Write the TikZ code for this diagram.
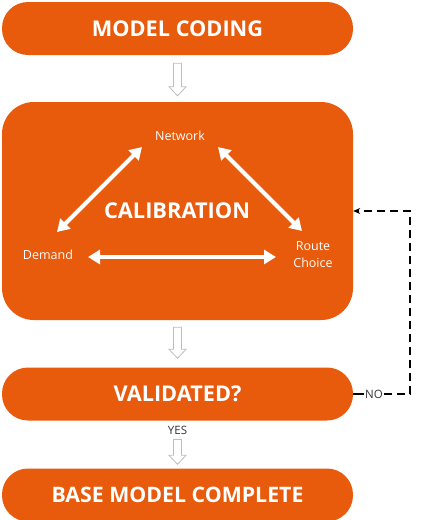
\documentclass[tikz,border=0pt]{standalone}
\usepackage{fontspec}
\setmainfont{Open Sans}
\usetikzlibrary{arrows.meta,calc}
\definecolor{orng}{HTML}{E85A0C}
\definecolor{hollowgray}{HTML}{BDBDBD}
\definecolor{dark}{HTML}{333333}
\tikzset{
  pill/.style={fill=orng, draw=none, rounded corners=26pt, minimum width=351pt, minimum height=53pt, inner sep=0pt, text=white, font=\bfseries\fontsize{21.7}{24}\selectfont},
  bigbox/.style={fill=orng, draw=none, rounded corners=32pt, minimum width=351pt, minimum height=218pt, inner sep=0pt},
  lbl/.style={text=white, font=\fontsize{12.5}{17}\selectfont, align=center, inner sep=0pt},
  smalllbl/.style={text=dark, font=\fontsize{11.5}{13}\selectfont, inner sep=1pt},
  wharrow/.style={white, line width=4pt, {Triangle[length=12pt,width=14pt]}-{Triangle[length=12pt,width=14pt]}},
  hollow/.style={draw=hollowgray, fill=white, line width=0.8pt, line join=miter},
  feedback/.style={black, line width=1.1pt, dash pattern=on 8pt off 5pt},
}
\newcommand\hollowarrow[2]{%
  \draw[hollow] ($(#1)+(-4,0)$) -- ($(#1)+(4,0)$) -- ($(#2)+(4,-9)$) -- ($(#2)+(8.5,-9)$) -- (#2) -- ($(#2)+(-8.5,-9)$) -- ($(#2)+(-4,-9)$) -- cycle;}
\begin{document}
\begin{tikzpicture}[x=1pt,y=-1pt]
\useasboundingbox (0,0) rectangle (426,520);
\node[pill] (coding) at (177.5,28.5) {MODEL CODING};
\node[bigbox] (calib) at (177.5,211) {};
\node[pill] (valid) at (177.5,394) {VALIDATED?};
\node[pill, font=\bfseries\fontsize{21.3}{24}\selectfont] (base) at (177.5,495) {BASE MODEL COMPLETE};

\node[text=white, font=\bfseries\fontsize{21.8}{25}\selectfont, inner sep=0pt] (caltxt) at (177,211) {CALIBRATION};
\node[lbl] (net) at (180,136) {Network};
\node[lbl] (dem) at (48,255) {Demand};
\node[lbl] (route) at (313,254.5) {Route\\Choice};

\coordinate (nd1) at (142,147);
\coordinate (nd2) at (57,232);
\coordinate (nr1) at (218,147);
\coordinate (nr2) at (302,231);
\coordinate (dr1) at (88,257);
\coordinate (dr2) at (276,257);
\draw[wharrow] (nd1) -- (nd2);
\draw[wharrow] (nr1) -- (nr2);
\draw[wharrow] (dr1) -- (dr2);

\coordinate (a1s) at ($(coding.south)+(0,8)$);
\coordinate (a1e) at ($(calib.north)+(0,-6)$);
\hollowarrow{a1s}{a1e}
\coordinate (a2s) at ($(calib.south)+(0,7)$);
\coordinate (a2e) at ($(valid.north)+(0,-9)$);
\hollowarrow{a2s}{a2e}
\node[smalllbl] (yes) at (177.5,430) {YES};
\coordinate (a3s) at ($(yes.south)+(0,4)$);
\coordinate (a3e) at ($(base.north)+(0,-4)$);
\hollowarrow{a3s}{a3e}

\node[smalllbl, inner sep=0.5pt] (no) at (374,394) {NO};
\draw[black, line width=1.1pt] (valid.east) -- (no.west);
\coordinate (c1) at (410,394);
\coordinate (c2) at (410,211);
\draw[feedback, -{Stealth[length=7pt,width=6pt]}] (no.east) -- (c1) -- (c2) -- (calib.east);
\end{tikzpicture}
\end{document}
